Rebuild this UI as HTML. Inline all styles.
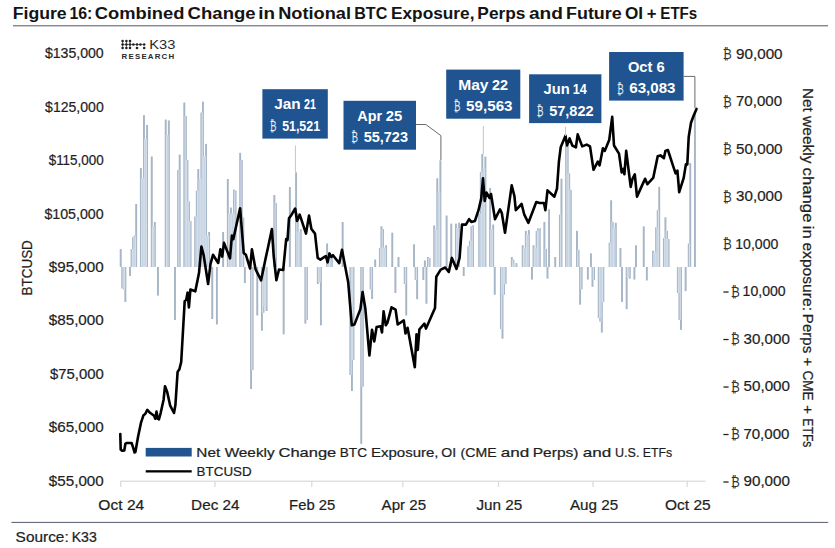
<!DOCTYPE html>
<html><head><meta charset="utf-8"><style>
html,body{margin:0;padding:0;background:#fff;}
body{width:835px;height:548px;overflow:hidden;position:relative;font-family:'Liberation Sans', sans-serif;}
svg{position:absolute;left:0;top:0;}
svg text{font-family:'Liberation Sans', sans-serif;}
</style></head><body>
<svg width="835" height="548" viewBox="0 0 835 548">
<rect x="13" y="25.3" width="815" height="1" fill="#4f5666"/>
<g fill="#222"><circle cx="122.6" cy="41.1" r="1.3"/><circle cx="126.4" cy="41.1" r="1.3"/><circle cx="130" cy="41.1" r="1.3"/><circle cx="122.6" cy="44.5" r="1.3"/><circle cx="126.4" cy="44.5" r="1.3"/><circle cx="130" cy="44.5" r="1.3"/><circle cx="133.4" cy="44.5" r="1.3"/><circle cx="137" cy="44.5" r="1.3"/><circle cx="140.4" cy="44.5" r="1.3"/><circle cx="144.2" cy="44.5" r="1.3"/><circle cx="122.6" cy="48.0" r="1.3"/><circle cx="126.4" cy="48.0" r="1.3"/><circle cx="130" cy="48.0" r="1.3"/><circle cx="137" cy="48.0" r="1.3"/><circle cx="144.2" cy="48.0" r="1.3"/></g>
<g stroke="#222" stroke-width="0.6"><line x1="122.6" y1="41.1" x2="122.6" y2="48"/><line x1="126.4" y1="41.1" x2="126.4" y2="48"/><line x1="130" y1="41.1" x2="130" y2="48"/><line x1="122.6" y1="44.5" x2="144.2" y2="44.5"/></g>
<text x="149.22" y="49.30" font-size="12.8" fill="#2a2a2a" textLength="26.15" lengthAdjust="spacingAndGlyphs">K33</text>
<text x="121.6" y="58.6" font-size="7.9" font-weight="bold" fill="#2a2a2a" textLength="52.6" lengthAdjust="spacing">RESEARCH</text>
<g fill="#c7d4e3"><rect x="119.92" y="249.0" width="1.552" height="18.0"/><rect x="121.48" y="267.0" width="1.552" height="21.5"/><rect x="123.03" y="267.0" width="1.552" height="22.4"/><rect x="124.58" y="267.0" width="1.552" height="35.0"/><rect x="129.24" y="267.0" width="1.552" height="9.0"/><rect x="130.79" y="249.0" width="1.552" height="18.0"/><rect x="132.34" y="237.3" width="1.552" height="29.7"/><rect x="133.89" y="235.5" width="1.552" height="31.5"/><rect x="135.44" y="204.0" width="1.552" height="63.0"/><rect x="140.10" y="168.1" width="1.552" height="98.9"/><rect x="141.65" y="178.0" width="1.552" height="89.0"/><rect x="143.20" y="115.1" width="1.552" height="151.9"/><rect x="144.76" y="139.2" width="1.552" height="127.8"/><rect x="146.31" y="125.0" width="1.552" height="142.0"/><rect x="150.96" y="156.5" width="1.552" height="110.5"/><rect x="152.52" y="226.5" width="1.552" height="40.5"/><rect x="154.07" y="222.0" width="1.552" height="45.0"/><rect x="157.17" y="267.0" width="1.552" height="28.6"/><rect x="164.93" y="119.6" width="1.552" height="147.4"/><rect x="166.48" y="135.2" width="1.552" height="131.8"/><rect x="168.04" y="120.5" width="1.552" height="146.5"/><rect x="174.24" y="267.0" width="1.552" height="53.0"/><rect x="177.35" y="170.0" width="1.552" height="97.0"/><rect x="178.90" y="154.7" width="1.552" height="112.3"/><rect x="183.56" y="102.6" width="1.552" height="164.4"/><rect x="185.11" y="116.0" width="1.552" height="151.0"/><rect x="186.66" y="160.0" width="1.552" height="107.0"/><rect x="188.21" y="201.4" width="1.552" height="65.6"/><rect x="189.76" y="221.0" width="1.552" height="46.0"/><rect x="194.42" y="216.6" width="1.552" height="50.4"/><rect x="195.97" y="190.6" width="1.552" height="76.4"/><rect x="197.52" y="169.0" width="1.552" height="98.0"/><rect x="199.08" y="178.8" width="1.552" height="88.2"/><rect x="200.63" y="112.5" width="1.552" height="154.5"/><rect x="202.18" y="101.7" width="1.552" height="165.3"/><rect x="203.73" y="156.2" width="1.552" height="110.8"/><rect x="205.28" y="143.9" width="1.552" height="123.1"/><rect x="206.84" y="235.5" width="1.552" height="31.5"/><rect x="208.39" y="232.0" width="1.552" height="35.0"/><rect x="211.49" y="267.0" width="1.552" height="52.0"/><rect x="216.15" y="267.0" width="1.552" height="57.4"/><rect x="222.36" y="232.0" width="1.552" height="35.0"/><rect x="227.01" y="179.0" width="1.552" height="88.0"/><rect x="228.56" y="213.5" width="1.552" height="53.5"/><rect x="230.12" y="207.6" width="1.552" height="59.4"/><rect x="231.67" y="213.5" width="1.552" height="53.5"/><rect x="233.22" y="189.7" width="1.552" height="77.3"/><rect x="234.77" y="190.6" width="1.552" height="76.4"/><rect x="239.43" y="152.9" width="1.552" height="114.1"/><rect x="240.98" y="160.0" width="1.552" height="107.0"/><rect x="242.53" y="217.5" width="1.552" height="49.5"/><rect x="244.08" y="267.0" width="1.552" height="16.0"/><rect x="250.29" y="267.0" width="1.552" height="122.0"/><rect x="251.84" y="267.0" width="1.552" height="103.0"/><rect x="256.50" y="267.0" width="1.552" height="48.4"/><rect x="261.16" y="267.0" width="1.552" height="63.7"/><rect x="262.71" y="267.0" width="1.552" height="45.7"/><rect x="264.26" y="267.0" width="1.552" height="39.6"/><rect x="265.81" y="267.0" width="1.552" height="44.0"/><rect x="273.57" y="195.0" width="1.552" height="72.0"/><rect x="275.12" y="203.0" width="1.552" height="64.0"/><rect x="282.88" y="267.0" width="1.552" height="67.3"/><rect x="289.09" y="187.0" width="1.552" height="80.0"/><rect x="295.30" y="172.4" width="1.552" height="94.6"/><rect x="296.85" y="213.0" width="1.552" height="54.0"/><rect x="298.40" y="232.8" width="1.552" height="34.2"/><rect x="299.96" y="229.0" width="1.552" height="38.0"/><rect x="304.61" y="267.0" width="1.552" height="56.5"/><rect x="306.16" y="267.0" width="1.552" height="53.0"/><rect x="317.03" y="267.0" width="1.552" height="17.0"/><rect x="318.58" y="267.0" width="1.552" height="15.3"/><rect x="320.13" y="267.0" width="1.552" height="58.3"/><rect x="326.34" y="243.5" width="1.552" height="23.5"/><rect x="327.89" y="255.0" width="1.552" height="12.0"/><rect x="329.44" y="258.0" width="1.552" height="9.0"/><rect x="331.00" y="257.0" width="1.552" height="10.0"/><rect x="341.86" y="222.0" width="1.552" height="45.0"/><rect x="349.62" y="267.0" width="1.552" height="108.0"/><rect x="351.17" y="267.0" width="1.552" height="124.0"/><rect x="352.72" y="267.0" width="1.552" height="93.0"/><rect x="360.48" y="267.0" width="1.552" height="176.8"/><rect x="362.04" y="267.0" width="1.552" height="119.7"/><rect x="369.80" y="267.0" width="1.552" height="22.4"/><rect x="371.35" y="267.0" width="1.552" height="32.0"/><rect x="374.45" y="259.6" width="1.552" height="7.4"/><rect x="379.11" y="248.0" width="1.552" height="19.0"/><rect x="380.66" y="226.4" width="1.552" height="40.6"/><rect x="382.21" y="229.0" width="1.552" height="38.0"/><rect x="383.76" y="247.5" width="1.552" height="19.5"/><rect x="385.32" y="245.3" width="1.552" height="21.7"/><rect x="391.52" y="232.7" width="1.552" height="34.3"/><rect x="394.63" y="267.0" width="1.552" height="26.0"/><rect x="397.73" y="257.0" width="1.552" height="10.0"/><rect x="403.94" y="267.0" width="1.552" height="17.0"/><rect x="405.49" y="267.0" width="1.552" height="48.4"/><rect x="413.25" y="244.4" width="1.552" height="22.6"/><rect x="414.80" y="267.0" width="1.552" height="13.0"/><rect x="416.36" y="267.0" width="1.552" height="32.2"/><rect x="422.56" y="267.0" width="1.552" height="13.0"/><rect x="424.12" y="260.5" width="1.552" height="6.5"/><rect x="425.67" y="267.0" width="1.552" height="36.7"/><rect x="427.22" y="257.0" width="1.552" height="10.0"/><rect x="428.77" y="258.0" width="1.552" height="9.0"/><rect x="433.43" y="225.5" width="1.552" height="41.5"/><rect x="434.98" y="229.7" width="1.552" height="37.4"/><rect x="436.53" y="178.3" width="1.552" height="88.7"/><rect x="438.08" y="191.7" width="1.552" height="75.3"/><rect x="439.64" y="160.3" width="1.552" height="106.7"/><rect x="445.84" y="215.6" width="1.552" height="51.4"/><rect x="450.50" y="223.7" width="1.552" height="43.3"/><rect x="455.16" y="223.7" width="1.552" height="43.3"/><rect x="456.71" y="228.0" width="1.552" height="39.0"/><rect x="458.26" y="222.8" width="1.552" height="44.2"/><rect x="462.92" y="267.0" width="1.552" height="9.0"/><rect x="467.57" y="246.2" width="1.552" height="20.8"/><rect x="469.12" y="240.8" width="1.552" height="26.2"/><rect x="470.68" y="226.4" width="1.552" height="40.6"/><rect x="472.23" y="225.5" width="1.552" height="41.5"/><rect x="478.44" y="213.8" width="1.552" height="53.2"/><rect x="479.99" y="172.0" width="1.552" height="95.0"/><rect x="481.54" y="154.0" width="1.552" height="113.0"/><rect x="483.09" y="167.7" width="1.552" height="99.3"/><rect x="484.64" y="156.7" width="1.552" height="110.3"/><rect x="489.30" y="188.0" width="1.552" height="79.0"/><rect x="490.85" y="228.8" width="1.552" height="38.2"/><rect x="492.40" y="224.6" width="1.552" height="42.4"/><rect x="493.96" y="267.0" width="1.552" height="27.7"/><rect x="500.16" y="267.0" width="1.552" height="61.9"/><rect x="501.72" y="267.0" width="1.552" height="71.7"/><rect x="503.27" y="267.0" width="1.552" height="27.7"/><rect x="504.82" y="267.0" width="1.552" height="17.0"/><rect x="511.03" y="257.0" width="1.552" height="10.0"/><rect x="512.58" y="259.6" width="1.552" height="7.4"/><rect x="514.13" y="263.4" width="1.552" height="3.6"/><rect x="515.68" y="263.0" width="1.552" height="4.0"/><rect x="521.89" y="245.3" width="1.552" height="21.7"/><rect x="523.44" y="247.5" width="1.552" height="19.5"/><rect x="525.00" y="230.9" width="1.552" height="36.1"/><rect x="526.55" y="234.5" width="1.552" height="32.5"/><rect x="528.10" y="230.0" width="1.552" height="37.0"/><rect x="531.20" y="267.0" width="1.552" height="12.5"/><rect x="532.76" y="245.3" width="1.552" height="21.7"/><rect x="534.31" y="247.5" width="1.552" height="19.5"/><rect x="535.86" y="230.9" width="1.552" height="36.1"/><rect x="537.41" y="228.2" width="1.552" height="38.8"/><rect x="538.96" y="228.2" width="1.552" height="38.8"/><rect x="543.62" y="221.9" width="1.552" height="45.1"/><rect x="545.17" y="248.9" width="1.552" height="18.1"/><rect x="546.72" y="267.0" width="1.552" height="11.6"/><rect x="548.28" y="209.4" width="1.552" height="57.6"/><rect x="554.48" y="257.0" width="1.552" height="10.0"/><rect x="559.14" y="214.7" width="1.552" height="52.3"/><rect x="560.69" y="178.8" width="1.552" height="88.2"/><rect x="565.35" y="145.5" width="1.552" height="121.5"/><rect x="566.90" y="145.5" width="1.552" height="121.5"/><rect x="568.45" y="173.4" width="1.552" height="93.6"/><rect x="570.00" y="190.0" width="1.552" height="77.0"/><rect x="576.21" y="230.9" width="1.552" height="36.1"/><rect x="577.76" y="249.8" width="1.552" height="17.2"/><rect x="579.32" y="267.0" width="1.552" height="37.6"/><rect x="580.87" y="267.0" width="1.552" height="22.4"/><rect x="587.08" y="267.0" width="1.552" height="12.5"/><rect x="590.18" y="253.4" width="1.552" height="13.6"/><rect x="591.73" y="267.0" width="1.552" height="19.7"/><rect x="593.28" y="267.0" width="1.552" height="13.0"/><rect x="597.94" y="267.0" width="1.552" height="51.0"/><rect x="599.49" y="267.0" width="1.552" height="54.7"/><rect x="601.04" y="267.0" width="1.552" height="65.5"/><rect x="602.60" y="267.0" width="1.552" height="34.9"/><rect x="608.80" y="242.6" width="1.552" height="24.4"/><rect x="610.36" y="200.3" width="1.552" height="66.7"/><rect x="611.91" y="221.9" width="1.552" height="45.1"/><rect x="613.46" y="227.2" width="1.552" height="39.8"/><rect x="615.01" y="222.8" width="1.552" height="44.2"/><rect x="619.67" y="248.0" width="1.552" height="19.0"/><rect x="621.22" y="267.0" width="1.552" height="34.9"/><rect x="625.88" y="267.0" width="1.552" height="42.1"/><rect x="627.43" y="267.0" width="1.552" height="10.4"/><rect x="628.98" y="267.0" width="1.552" height="11.6"/><rect x="633.64" y="267.0" width="1.552" height="12.5"/><rect x="635.19" y="245.3" width="1.552" height="21.7"/><rect x="642.95" y="226.4" width="1.552" height="40.6"/><rect x="646.05" y="267.0" width="1.552" height="13.4"/><rect x="652.26" y="250.7" width="1.552" height="16.3"/><rect x="653.81" y="252.3" width="1.552" height="14.7"/><rect x="655.36" y="227.3" width="1.552" height="39.7"/><rect x="656.92" y="210.2" width="1.552" height="56.8"/><rect x="658.47" y="186.9" width="1.552" height="80.1"/><rect x="663.12" y="238.1" width="1.552" height="28.9"/><rect x="664.68" y="217.4" width="1.552" height="49.6"/><rect x="666.23" y="230.9" width="1.552" height="36.1"/><rect x="667.78" y="239.0" width="1.552" height="28.0"/><rect x="677.09" y="267.0" width="1.552" height="26.0"/><rect x="678.64" y="267.0" width="1.552" height="52.9"/><rect x="680.20" y="267.0" width="1.552" height="62.8"/><rect x="684.85" y="267.0" width="1.552" height="24.1"/><rect x="687.96" y="243.5" width="1.552" height="23.5"/><rect x="689.51" y="163.0" width="1.552" height="104.0"/><rect x="694.16" y="112.0" width="1.552" height="155.0"/></g><g stroke="#8d9db0" stroke-width="0.6"><line x1="120.22" y1="249.0" x2="120.22" y2="267.0"/><line x1="121.18" y1="249.0" x2="121.18" y2="267.0"/><line x1="121.78" y1="267.0" x2="121.78" y2="288.5"/><line x1="123.33" y1="288.5" x2="123.33" y2="289.4"/><line x1="124.88" y1="289.4" x2="124.88" y2="302.0"/><line x1="125.83" y1="267.0" x2="125.83" y2="302.0"/><line x1="129.54" y1="267.0" x2="129.54" y2="276.0"/><line x1="130.49" y1="267.0" x2="130.49" y2="276.0"/><line x1="131.09" y1="249.0" x2="131.09" y2="267.0"/><line x1="132.64" y1="237.3" x2="132.64" y2="249.0"/><line x1="134.19" y1="235.5" x2="134.19" y2="237.3"/><line x1="135.74" y1="204.0" x2="135.74" y2="235.5"/><line x1="136.70" y1="204.0" x2="136.70" y2="267.0"/><line x1="140.40" y1="168.1" x2="140.40" y2="267.0"/><line x1="141.35" y1="168.1" x2="141.35" y2="178.0"/><line x1="143.50" y1="115.1" x2="143.50" y2="178.0"/><line x1="144.46" y1="115.1" x2="144.46" y2="139.2"/><line x1="146.61" y1="125.0" x2="146.61" y2="139.2"/><line x1="147.56" y1="125.0" x2="147.56" y2="267.0"/><line x1="151.26" y1="156.5" x2="151.26" y2="267.0"/><line x1="152.22" y1="156.5" x2="152.22" y2="226.5"/><line x1="154.37" y1="222.0" x2="154.37" y2="226.5"/><line x1="155.32" y1="222.0" x2="155.32" y2="267.0"/><line x1="157.47" y1="267.0" x2="157.47" y2="295.6"/><line x1="158.42" y1="267.0" x2="158.42" y2="295.6"/><line x1="165.23" y1="119.6" x2="165.23" y2="267.0"/><line x1="166.18" y1="119.6" x2="166.18" y2="135.2"/><line x1="168.34" y1="120.5" x2="168.34" y2="135.2"/><line x1="169.29" y1="120.5" x2="169.29" y2="267.0"/><line x1="174.54" y1="267.0" x2="174.54" y2="320.0"/><line x1="175.50" y1="267.0" x2="175.50" y2="320.0"/><line x1="177.65" y1="170.0" x2="177.65" y2="267.0"/><line x1="179.20" y1="154.7" x2="179.20" y2="170.0"/><line x1="180.15" y1="154.7" x2="180.15" y2="267.0"/><line x1="183.86" y1="102.6" x2="183.86" y2="267.0"/><line x1="184.81" y1="102.6" x2="184.81" y2="116.0"/><line x1="186.36" y1="116.0" x2="186.36" y2="160.0"/><line x1="187.91" y1="160.0" x2="187.91" y2="201.4"/><line x1="189.46" y1="201.4" x2="189.46" y2="221.0"/><line x1="191.02" y1="221.0" x2="191.02" y2="267.0"/><line x1="194.72" y1="216.6" x2="194.72" y2="267.0"/><line x1="196.27" y1="190.6" x2="196.27" y2="216.6"/><line x1="197.82" y1="169.0" x2="197.82" y2="190.6"/><line x1="198.78" y1="169.0" x2="198.78" y2="178.8"/><line x1="200.93" y1="112.5" x2="200.93" y2="178.8"/><line x1="202.48" y1="101.7" x2="202.48" y2="112.5"/><line x1="203.43" y1="101.7" x2="203.43" y2="156.2"/><line x1="205.58" y1="143.9" x2="205.58" y2="156.2"/><line x1="206.54" y1="143.9" x2="206.54" y2="235.5"/><line x1="208.69" y1="232.0" x2="208.69" y2="235.5"/><line x1="209.64" y1="232.0" x2="209.64" y2="267.0"/><line x1="211.79" y1="267.0" x2="211.79" y2="319.0"/><line x1="212.74" y1="267.0" x2="212.74" y2="319.0"/><line x1="216.45" y1="267.0" x2="216.45" y2="324.4"/><line x1="217.40" y1="267.0" x2="217.40" y2="324.4"/><line x1="222.66" y1="232.0" x2="222.66" y2="267.0"/><line x1="223.61" y1="232.0" x2="223.61" y2="267.0"/><line x1="227.31" y1="179.0" x2="227.31" y2="267.0"/><line x1="228.26" y1="179.0" x2="228.26" y2="213.5"/><line x1="230.42" y1="207.6" x2="230.42" y2="213.5"/><line x1="231.37" y1="207.6" x2="231.37" y2="213.5"/><line x1="233.52" y1="189.7" x2="233.52" y2="213.5"/><line x1="234.47" y1="189.7" x2="234.47" y2="190.6"/><line x1="236.02" y1="190.6" x2="236.02" y2="267.0"/><line x1="239.73" y1="152.9" x2="239.73" y2="267.0"/><line x1="240.68" y1="152.9" x2="240.68" y2="160.0"/><line x1="242.23" y1="160.0" x2="242.23" y2="217.5"/><line x1="243.78" y1="217.5" x2="243.78" y2="267.0"/><line x1="244.38" y1="267.0" x2="244.38" y2="283.0"/><line x1="245.34" y1="267.0" x2="245.34" y2="283.0"/><line x1="250.59" y1="267.0" x2="250.59" y2="389.0"/><line x1="251.54" y1="370.0" x2="251.54" y2="389.0"/><line x1="253.10" y1="267.0" x2="253.10" y2="370.0"/><line x1="256.80" y1="267.0" x2="256.80" y2="315.4"/><line x1="257.75" y1="267.0" x2="257.75" y2="315.4"/><line x1="261.46" y1="267.0" x2="261.46" y2="330.7"/><line x1="262.41" y1="312.7" x2="262.41" y2="330.7"/><line x1="263.96" y1="306.6" x2="263.96" y2="312.7"/><line x1="266.11" y1="306.6" x2="266.11" y2="311.0"/><line x1="267.06" y1="267.0" x2="267.06" y2="311.0"/><line x1="273.87" y1="195.0" x2="273.87" y2="267.0"/><line x1="274.82" y1="195.0" x2="274.82" y2="203.0"/><line x1="276.38" y1="203.0" x2="276.38" y2="267.0"/><line x1="283.18" y1="267.0" x2="283.18" y2="334.3"/><line x1="284.14" y1="267.0" x2="284.14" y2="334.3"/><line x1="289.39" y1="187.0" x2="289.39" y2="267.0"/><line x1="290.34" y1="187.0" x2="290.34" y2="267.0"/><line x1="295.60" y1="172.4" x2="295.60" y2="267.0"/><line x1="296.55" y1="172.4" x2="296.55" y2="213.0"/><line x1="298.10" y1="213.0" x2="298.10" y2="232.8"/><line x1="300.26" y1="229.0" x2="300.26" y2="232.8"/><line x1="301.21" y1="229.0" x2="301.21" y2="267.0"/><line x1="304.91" y1="267.0" x2="304.91" y2="323.5"/><line x1="305.86" y1="320.0" x2="305.86" y2="323.5"/><line x1="307.42" y1="267.0" x2="307.42" y2="320.0"/><line x1="317.33" y1="267.0" x2="317.33" y2="284.0"/><line x1="318.28" y1="282.3" x2="318.28" y2="284.0"/><line x1="320.43" y1="282.3" x2="320.43" y2="325.3"/><line x1="321.38" y1="267.0" x2="321.38" y2="325.3"/><line x1="326.64" y1="243.5" x2="326.64" y2="267.0"/><line x1="327.59" y1="243.5" x2="327.59" y2="255.0"/><line x1="329.14" y1="255.0" x2="329.14" y2="258.0"/><line x1="331.30" y1="257.0" x2="331.30" y2="258.0"/><line x1="332.25" y1="257.0" x2="332.25" y2="267.0"/><line x1="342.16" y1="222.0" x2="342.16" y2="267.0"/><line x1="343.11" y1="222.0" x2="343.11" y2="267.0"/><line x1="349.92" y1="267.0" x2="349.92" y2="375.0"/><line x1="351.47" y1="375.0" x2="351.47" y2="391.0"/><line x1="352.42" y1="360.0" x2="352.42" y2="391.0"/><line x1="353.98" y1="267.0" x2="353.98" y2="360.0"/><line x1="360.78" y1="267.0" x2="360.78" y2="443.8"/><line x1="361.74" y1="386.7" x2="361.74" y2="443.8"/><line x1="363.29" y1="267.0" x2="363.29" y2="386.7"/><line x1="370.10" y1="267.0" x2="370.10" y2="289.4"/><line x1="371.65" y1="289.4" x2="371.65" y2="299.0"/><line x1="372.60" y1="267.0" x2="372.60" y2="299.0"/><line x1="374.75" y1="259.6" x2="374.75" y2="267.0"/><line x1="375.70" y1="259.6" x2="375.70" y2="267.0"/><line x1="379.41" y1="248.0" x2="379.41" y2="267.0"/><line x1="380.96" y1="226.4" x2="380.96" y2="248.0"/><line x1="381.91" y1="226.4" x2="381.91" y2="229.0"/><line x1="383.46" y1="229.0" x2="383.46" y2="247.5"/><line x1="385.62" y1="245.3" x2="385.62" y2="247.5"/><line x1="386.57" y1="245.3" x2="386.57" y2="267.0"/><line x1="391.82" y1="232.7" x2="391.82" y2="267.0"/><line x1="392.78" y1="232.7" x2="392.78" y2="267.0"/><line x1="394.93" y1="267.0" x2="394.93" y2="293.0"/><line x1="395.88" y1="267.0" x2="395.88" y2="293.0"/><line x1="398.03" y1="257.0" x2="398.03" y2="267.0"/><line x1="398.98" y1="257.0" x2="398.98" y2="267.0"/><line x1="404.24" y1="267.0" x2="404.24" y2="284.0"/><line x1="405.79" y1="284.0" x2="405.79" y2="315.4"/><line x1="406.74" y1="267.0" x2="406.74" y2="315.4"/><line x1="413.55" y1="244.4" x2="413.55" y2="267.0"/><line x1="414.50" y1="244.4" x2="414.50" y2="267.0"/><line x1="415.10" y1="267.0" x2="415.10" y2="280.0"/><line x1="416.66" y1="280.0" x2="416.66" y2="299.2"/><line x1="417.61" y1="267.0" x2="417.61" y2="299.2"/><line x1="422.86" y1="267.0" x2="422.86" y2="280.0"/><line x1="423.82" y1="267.0" x2="423.82" y2="280.0"/><line x1="424.42" y1="260.5" x2="424.42" y2="267.0"/><line x1="425.37" y1="260.5" x2="425.37" y2="267.0"/><line x1="425.97" y1="267.0" x2="425.97" y2="303.7"/><line x1="426.92" y1="267.0" x2="426.92" y2="303.7"/><line x1="427.52" y1="257.0" x2="427.52" y2="267.0"/><line x1="428.47" y1="257.0" x2="428.47" y2="258.0"/><line x1="430.02" y1="258.0" x2="430.02" y2="267.0"/><line x1="433.73" y1="225.5" x2="433.73" y2="267.0"/><line x1="434.68" y1="225.5" x2="434.68" y2="229.7"/><line x1="436.83" y1="178.3" x2="436.83" y2="229.7"/><line x1="437.78" y1="178.3" x2="437.78" y2="191.7"/><line x1="439.94" y1="160.3" x2="439.94" y2="191.7"/><line x1="440.89" y1="160.3" x2="440.89" y2="267.0"/><line x1="446.14" y1="215.6" x2="446.14" y2="267.0"/><line x1="447.10" y1="215.6" x2="447.10" y2="267.0"/><line x1="450.80" y1="223.7" x2="450.80" y2="267.0"/><line x1="451.75" y1="223.7" x2="451.75" y2="267.0"/><line x1="455.46" y1="223.7" x2="455.46" y2="267.0"/><line x1="456.41" y1="223.7" x2="456.41" y2="228.0"/><line x1="458.56" y1="222.8" x2="458.56" y2="228.0"/><line x1="459.51" y1="222.8" x2="459.51" y2="267.0"/><line x1="463.22" y1="267.0" x2="463.22" y2="276.0"/><line x1="464.17" y1="267.0" x2="464.17" y2="276.0"/><line x1="467.87" y1="246.2" x2="467.87" y2="267.0"/><line x1="469.42" y1="240.8" x2="469.42" y2="246.2"/><line x1="470.98" y1="226.4" x2="470.98" y2="240.8"/><line x1="472.53" y1="225.5" x2="472.53" y2="226.4"/><line x1="473.48" y1="225.5" x2="473.48" y2="267.0"/><line x1="478.74" y1="213.8" x2="478.74" y2="267.0"/><line x1="480.29" y1="172.0" x2="480.29" y2="213.8"/><line x1="481.84" y1="154.0" x2="481.84" y2="172.0"/><line x1="482.79" y1="154.0" x2="482.79" y2="167.7"/><line x1="484.94" y1="156.7" x2="484.94" y2="167.7"/><line x1="485.90" y1="156.7" x2="485.90" y2="267.0"/><line x1="489.60" y1="188.0" x2="489.60" y2="267.0"/><line x1="490.55" y1="188.0" x2="490.55" y2="228.8"/><line x1="492.70" y1="224.6" x2="492.70" y2="228.8"/><line x1="493.66" y1="224.6" x2="493.66" y2="267.0"/><line x1="494.26" y1="267.0" x2="494.26" y2="294.7"/><line x1="495.21" y1="267.0" x2="495.21" y2="294.7"/><line x1="500.46" y1="267.0" x2="500.46" y2="328.9"/><line x1="502.02" y1="328.9" x2="502.02" y2="338.7"/><line x1="502.97" y1="294.7" x2="502.97" y2="338.7"/><line x1="504.52" y1="284.0" x2="504.52" y2="294.7"/><line x1="506.07" y1="267.0" x2="506.07" y2="284.0"/><line x1="511.33" y1="257.0" x2="511.33" y2="267.0"/><line x1="512.28" y1="257.0" x2="512.28" y2="259.6"/><line x1="513.83" y1="259.6" x2="513.83" y2="263.4"/><line x1="515.98" y1="263.0" x2="515.98" y2="263.4"/><line x1="516.94" y1="263.0" x2="516.94" y2="267.0"/><line x1="522.19" y1="245.3" x2="522.19" y2="267.0"/><line x1="523.14" y1="245.3" x2="523.14" y2="247.5"/><line x1="525.30" y1="230.9" x2="525.30" y2="247.5"/><line x1="526.25" y1="230.9" x2="526.25" y2="234.5"/><line x1="528.40" y1="230.0" x2="528.40" y2="234.5"/><line x1="529.35" y1="230.0" x2="529.35" y2="267.0"/><line x1="531.50" y1="267.0" x2="531.50" y2="279.5"/><line x1="532.46" y1="267.0" x2="532.46" y2="279.5"/><line x1="533.06" y1="245.3" x2="533.06" y2="267.0"/><line x1="534.01" y1="245.3" x2="534.01" y2="247.5"/><line x1="536.16" y1="230.9" x2="536.16" y2="247.5"/><line x1="537.71" y1="228.2" x2="537.71" y2="230.9"/><line x1="540.22" y1="228.2" x2="540.22" y2="267.0"/><line x1="543.92" y1="221.9" x2="543.92" y2="267.0"/><line x1="544.87" y1="221.9" x2="544.87" y2="248.9"/><line x1="546.42" y1="248.9" x2="546.42" y2="267.0"/><line x1="547.02" y1="267.0" x2="547.02" y2="278.6"/><line x1="547.98" y1="267.0" x2="547.98" y2="278.6"/><line x1="548.58" y1="209.4" x2="548.58" y2="267.0"/><line x1="549.53" y1="209.4" x2="549.53" y2="267.0"/><line x1="554.78" y1="257.0" x2="554.78" y2="267.0"/><line x1="555.74" y1="257.0" x2="555.74" y2="267.0"/><line x1="559.44" y1="214.7" x2="559.44" y2="267.0"/><line x1="560.99" y1="178.8" x2="560.99" y2="214.7"/><line x1="561.94" y1="178.8" x2="561.94" y2="267.0"/><line x1="565.65" y1="145.5" x2="565.65" y2="267.0"/><line x1="568.15" y1="145.5" x2="568.15" y2="173.4"/><line x1="569.70" y1="173.4" x2="569.70" y2="190.0"/><line x1="571.26" y1="190.0" x2="571.26" y2="267.0"/><line x1="576.51" y1="230.9" x2="576.51" y2="267.0"/><line x1="577.46" y1="230.9" x2="577.46" y2="249.8"/><line x1="579.02" y1="249.8" x2="579.02" y2="267.0"/><line x1="579.62" y1="267.0" x2="579.62" y2="304.6"/><line x1="580.57" y1="289.4" x2="580.57" y2="304.6"/><line x1="582.12" y1="267.0" x2="582.12" y2="289.4"/><line x1="587.38" y1="267.0" x2="587.38" y2="279.5"/><line x1="588.33" y1="267.0" x2="588.33" y2="279.5"/><line x1="590.48" y1="253.4" x2="590.48" y2="267.0"/><line x1="591.43" y1="253.4" x2="591.43" y2="267.0"/><line x1="592.03" y1="267.0" x2="592.03" y2="286.7"/><line x1="592.98" y1="280.0" x2="592.98" y2="286.7"/><line x1="594.54" y1="267.0" x2="594.54" y2="280.0"/><line x1="598.24" y1="267.0" x2="598.24" y2="318.0"/><line x1="599.79" y1="318.0" x2="599.79" y2="321.7"/><line x1="601.34" y1="321.7" x2="601.34" y2="332.5"/><line x1="602.30" y1="301.9" x2="602.30" y2="332.5"/><line x1="603.85" y1="267.0" x2="603.85" y2="301.9"/><line x1="609.10" y1="242.6" x2="609.10" y2="267.0"/><line x1="610.66" y1="200.3" x2="610.66" y2="242.6"/><line x1="611.61" y1="200.3" x2="611.61" y2="221.9"/><line x1="613.16" y1="221.9" x2="613.16" y2="227.2"/><line x1="615.31" y1="222.8" x2="615.31" y2="227.2"/><line x1="616.26" y1="222.8" x2="616.26" y2="267.0"/><line x1="619.97" y1="248.0" x2="619.97" y2="267.0"/><line x1="620.92" y1="248.0" x2="620.92" y2="267.0"/><line x1="621.52" y1="267.0" x2="621.52" y2="301.9"/><line x1="622.47" y1="267.0" x2="622.47" y2="301.9"/><line x1="626.18" y1="267.0" x2="626.18" y2="309.1"/><line x1="627.13" y1="277.4" x2="627.13" y2="309.1"/><line x1="629.28" y1="277.4" x2="629.28" y2="278.6"/><line x1="630.23" y1="267.0" x2="630.23" y2="278.6"/><line x1="633.94" y1="267.0" x2="633.94" y2="279.5"/><line x1="634.89" y1="267.0" x2="634.89" y2="279.5"/><line x1="635.49" y1="245.3" x2="635.49" y2="267.0"/><line x1="636.44" y1="245.3" x2="636.44" y2="267.0"/><line x1="643.25" y1="226.4" x2="643.25" y2="267.0"/><line x1="644.20" y1="226.4" x2="644.20" y2="267.0"/><line x1="646.35" y1="267.0" x2="646.35" y2="280.4"/><line x1="647.30" y1="267.0" x2="647.30" y2="280.4"/><line x1="652.56" y1="250.7" x2="652.56" y2="267.0"/><line x1="653.51" y1="250.7" x2="653.51" y2="252.3"/><line x1="655.66" y1="227.3" x2="655.66" y2="252.3"/><line x1="657.22" y1="210.2" x2="657.22" y2="227.3"/><line x1="658.77" y1="186.9" x2="658.77" y2="210.2"/><line x1="659.72" y1="186.9" x2="659.72" y2="267.0"/><line x1="663.42" y1="238.1" x2="663.42" y2="267.0"/><line x1="664.98" y1="217.4" x2="664.98" y2="238.1"/><line x1="665.93" y1="217.4" x2="665.93" y2="230.9"/><line x1="667.48" y1="230.9" x2="667.48" y2="239.0"/><line x1="669.03" y1="239.0" x2="669.03" y2="267.0"/><line x1="677.39" y1="267.0" x2="677.39" y2="293.0"/><line x1="678.94" y1="293.0" x2="678.94" y2="319.9"/><line x1="680.50" y1="319.9" x2="680.50" y2="329.8"/><line x1="681.45" y1="267.0" x2="681.45" y2="329.8"/><line x1="685.15" y1="267.0" x2="685.15" y2="291.1"/><line x1="686.10" y1="267.0" x2="686.10" y2="291.1"/><line x1="688.26" y1="243.5" x2="688.26" y2="267.0"/><line x1="689.81" y1="163.0" x2="689.81" y2="243.5"/><line x1="690.76" y1="163.0" x2="690.76" y2="267.0"/><line x1="694.46" y1="112.0" x2="694.46" y2="267.0"/><line x1="695.42" y1="112.0" x2="695.42" y2="267.0"/></g>
<rect x="120.5" y="480.6" width="585" height="1.2" fill="#d9d9d9"/>
<rect x="120.1" y="481" width="1.2" height="6" fill="#d9d9d9"/><rect x="214.4" y="481" width="1.2" height="6" fill="#d9d9d9"/><rect x="311.2" y="481" width="1.2" height="6" fill="#d9d9d9"/><rect x="402.2" y="481" width="1.2" height="6" fill="#d9d9d9"/><rect x="497.9" y="481" width="1.2" height="6" fill="#d9d9d9"/><rect x="592.4" y="481" width="1.2" height="6" fill="#d9d9d9"/><rect x="686.6" y="481" width="1.2" height="6" fill="#d9d9d9"/>
<polyline points="120.3,434.1 120.7,449.6 122.1,450.8 124.3,450.5 125.4,443.6 126.9,443.0 131.6,443.0 133.0,447.2 134.6,452.5 135.4,452.0 138.1,436.5 141.1,422.3 143.5,415.2 145.2,414.0 147.3,409.8 150.0,412.8 154.1,415.8 155.3,418.7 156.5,411.6 157.7,418.7 158.9,419.3 160.7,412.8 163.6,399.7 165.0,386.2 167.2,392.0 170.2,405.7 174.0,413.0 175.4,405.1 177.6,371.9 179.4,369.2 181.2,362.0 184.7,301.0 186.2,300.0 187.6,292.5 188.9,307.5 190.4,289.5 195.3,291.3 199.0,273.0 201.4,246.5 203.6,254.8 208.1,284.0 210.5,263.9 213.0,254.8 218.2,263.0 220.4,249.3 222.2,256.6 224.0,242.9 230.0,258.4 231.9,235.6 233.3,239.2 240.1,208.2 243.7,252.9 245.9,254.8 250.1,268.5 251.9,249.3 255.6,269.4 261.1,280.3 265.6,258.4 268.0,247.5 271.9,229.1 273.7,256.0 276.4,280.3 279.0,269.5 283.2,270.0 286.2,239.0 287.5,240.0 289.0,218.3 291.6,214.7 295.2,208.5 297.0,221.0 299.7,214.7 306.0,233.6 309.0,215.6 311.4,229.0 315.0,233.6 317.7,257.9 320.4,259.6 323.0,257.9 325.8,256.0 327.6,262.3 329.4,253.4 331.2,257.0 333.0,255.2 339.2,263.2 342.0,249.8 348.2,282.2 351.8,325.3 354.5,324.4 360.4,309.1 362.6,292.0 365.3,308.2 369.4,355.5 372.0,329.8 374.3,341.4 376.6,327.0 380.6,326.2 382.0,332.5 383.6,311.4 385.8,325.3 387.4,322.9 391.5,307.3 395.6,309.7 397.7,324.5 403.8,320.4 405.5,333.5 407.6,327.8 414.8,367.2 416.5,334.4 417.8,350.0 419.4,329.4 424.4,323.7 426.0,328.6 435.0,308.0 436.3,276.8 440.7,269.6 445.2,267.5 448.8,271.9 451.9,257.9 456.5,269.0 459.6,257.9 462.0,224.6 465.9,224.6 469.1,219.2 471.3,221.9 474.9,221.0 478.5,210.2 481.2,198.6 483.0,178.3 484.7,201.0 486.5,192.6 489.6,198.0 491.0,194.0 495.0,219.2 500.0,209.4 501.8,213.0 505.0,232.7 507.2,217.4 511.7,185.4 514.4,196.0 515.8,210.2 521.6,204.0 524.3,214.7 528.4,222.8 536.3,202.0 539.5,203.0 544.0,203.0 545.4,210.2 547.5,190.4 554.4,196.7 557.0,188.6 558.9,161.7 560.7,147.3 565.5,135.7 567.0,145.5 569.6,138.4 572.3,145.5 575.9,147.3 577.7,134.4 582.2,146.4 586.7,144.6 590.0,146.4 593.5,169.8 597.8,161.7 599.6,165.3 602.9,148.2 604.7,150.9 609.2,140.1 612.2,116.8 614.0,145.5 619.0,153.6 621.7,172.5 623.5,168.9 624.4,174.3 626.2,150.9 630.7,186.9 632.5,178.8 634.8,174.3 637.0,196.7 640.6,188.6 645.1,178.8 647.4,184.2 653.2,177.9 657.7,156.3 660.4,155.4 663.9,158.1 665.4,150.9 667.9,150.0 672.9,165.3 675.6,173.4 677.4,170.7 679.2,192.2 683.7,177.9 685.9,164.4 687.3,164.4 688.7,137.0 691.0,122.7 693.5,116.0 696.5,108.9" fill="none" stroke="#000" stroke-width="2.6" stroke-linejoin="round" stroke-linecap="round"/>
<text x="44.88" y="58.30" font-size="14.6" stroke="#1e1e1e" stroke-width="0.22" fill="#1e1e1e" textLength="58.83" lengthAdjust="spacingAndGlyphs">$135,000</text><text x="45.09" y="111.70" font-size="14.6" stroke="#1e1e1e" stroke-width="0.22" fill="#1e1e1e" textLength="58.62" lengthAdjust="spacingAndGlyphs">$125,000</text><text x="48.67" y="165.10" font-size="14.6" stroke="#1e1e1e" stroke-width="0.22" fill="#1e1e1e" textLength="55.03" lengthAdjust="spacingAndGlyphs">$115,000</text><text x="44.39" y="218.50" font-size="14.6" stroke="#1e1e1e" stroke-width="0.22" fill="#1e1e1e" textLength="59.32" lengthAdjust="spacingAndGlyphs">$105,000</text><text x="48.79" y="271.90" font-size="14.6" stroke="#1e1e1e" stroke-width="0.22" fill="#1e1e1e" textLength="54.94" lengthAdjust="spacingAndGlyphs">$95,000</text><text x="48.79" y="325.30" font-size="14.6" stroke="#1e1e1e" stroke-width="0.22" fill="#1e1e1e" textLength="54.94" lengthAdjust="spacingAndGlyphs">$85,000</text><text x="49.98" y="378.70" font-size="14.6" stroke="#1e1e1e" stroke-width="0.22" fill="#1e1e1e" textLength="53.74" lengthAdjust="spacingAndGlyphs">$75,000</text><text x="48.72" y="432.10" font-size="14.6" stroke="#1e1e1e" stroke-width="0.22" fill="#1e1e1e" textLength="55.01" lengthAdjust="spacingAndGlyphs">$65,000</text><text x="48.86" y="485.50" font-size="14.6" stroke="#1e1e1e" stroke-width="0.22" fill="#1e1e1e" textLength="54.87" lengthAdjust="spacingAndGlyphs">$55,000</text><text x="736.07" y="58.50" font-size="14.6" stroke="#1e1e1e" stroke-width="0.22" fill="#1e1e1e" textLength="46.50" lengthAdjust="spacingAndGlyphs">90,000</text><text x="722.74" y="59.10" font-size="14.2" fill="#333" textLength="9.07" lengthAdjust="spacingAndGlyphs">₿</text><text x="736.00" y="106.00" font-size="14.6" stroke="#1e1e1e" stroke-width="0.22" fill="#1e1e1e" textLength="46.00" lengthAdjust="spacingAndGlyphs">70,000</text><text x="722.74" y="106.60" font-size="14.2" fill="#333" textLength="9.07" lengthAdjust="spacingAndGlyphs">₿</text><text x="736.14" y="153.50" font-size="14.6" stroke="#1e1e1e" stroke-width="0.22" fill="#1e1e1e" textLength="46.42" lengthAdjust="spacingAndGlyphs">50,000</text><text x="722.74" y="154.10" font-size="14.2" fill="#333" textLength="9.07" lengthAdjust="spacingAndGlyphs">₿</text><text x="736.14" y="201.00" font-size="14.6" stroke="#1e1e1e" stroke-width="0.22" fill="#1e1e1e" textLength="46.27" lengthAdjust="spacingAndGlyphs">30,000</text><text x="722.74" y="201.60" font-size="14.2" fill="#333" textLength="9.07" lengthAdjust="spacingAndGlyphs">₿</text><text x="735.30" y="248.50" font-size="14.6" stroke="#1e1e1e" stroke-width="0.22" fill="#1e1e1e" textLength="42.98" lengthAdjust="spacingAndGlyphs">10,000</text><text x="722.74" y="249.10" font-size="14.2" fill="#333" textLength="9.07" lengthAdjust="spacingAndGlyphs">₿</text><rect x="723.4" y="291.40" width="5.2" height="1.25" fill="#1e1e1e"/><text x="742.60" y="296.00" font-size="14.6" stroke="#1e1e1e" stroke-width="0.22" fill="#1e1e1e" textLength="42.98" lengthAdjust="spacingAndGlyphs">10,000</text><text x="730.64" y="296.60" font-size="14.2" fill="#333" textLength="9.07" lengthAdjust="spacingAndGlyphs">₿</text><rect x="723.4" y="338.90" width="5.2" height="1.25" fill="#1e1e1e"/><text x="743.54" y="343.50" font-size="14.6" stroke="#1e1e1e" stroke-width="0.22" fill="#1e1e1e" textLength="46.27" lengthAdjust="spacingAndGlyphs">30,000</text><text x="730.64" y="344.10" font-size="14.2" fill="#333" textLength="9.07" lengthAdjust="spacingAndGlyphs">₿</text><rect x="723.4" y="386.40" width="5.2" height="1.25" fill="#1e1e1e"/><text x="743.54" y="391.00" font-size="14.6" stroke="#1e1e1e" stroke-width="0.22" fill="#1e1e1e" textLength="46.42" lengthAdjust="spacingAndGlyphs">50,000</text><text x="730.64" y="391.60" font-size="14.2" fill="#333" textLength="9.07" lengthAdjust="spacingAndGlyphs">₿</text><rect x="723.4" y="433.90" width="5.2" height="1.25" fill="#1e1e1e"/><text x="743.40" y="438.50" font-size="14.6" stroke="#1e1e1e" stroke-width="0.22" fill="#1e1e1e" textLength="46.00" lengthAdjust="spacingAndGlyphs">70,000</text><text x="730.64" y="439.10" font-size="14.2" fill="#333" textLength="9.07" lengthAdjust="spacingAndGlyphs">₿</text><rect x="723.4" y="481.40" width="5.2" height="1.25" fill="#1e1e1e"/><text x="743.47" y="486.00" font-size="14.6" stroke="#1e1e1e" stroke-width="0.22" fill="#1e1e1e" textLength="46.50" lengthAdjust="spacingAndGlyphs">90,000</text><text x="730.64" y="486.60" font-size="14.2" fill="#333" textLength="9.07" lengthAdjust="spacingAndGlyphs">₿</text><text x="98.36" y="509.90" font-size="14.4" stroke="#1e1e1e" stroke-width="0.22" fill="#1e1e1e" textLength="45.85" lengthAdjust="spacingAndGlyphs">Oct 24</text><text x="191.13" y="509.90" font-size="14.4" stroke="#1e1e1e" stroke-width="0.22" fill="#1e1e1e" textLength="48.44" lengthAdjust="spacingAndGlyphs">Dec 24</text><text x="289.12" y="509.90" font-size="14.4" stroke="#1e1e1e" stroke-width="0.22" fill="#1e1e1e" textLength="46.22" lengthAdjust="spacingAndGlyphs">Feb 25</text><text x="381.55" y="509.90" font-size="14.4" stroke="#1e1e1e" stroke-width="0.22" fill="#1e1e1e" textLength="44.53" lengthAdjust="spacingAndGlyphs">Apr 25</text><text x="476.46" y="509.90" font-size="14.4" stroke="#1e1e1e" stroke-width="0.22" fill="#1e1e1e" textLength="45.90" lengthAdjust="spacingAndGlyphs">Jun 25</text><text x="569.90" y="509.90" font-size="14.4" stroke="#1e1e1e" stroke-width="0.22" fill="#1e1e1e" textLength="48.21" lengthAdjust="spacingAndGlyphs">Aug 25</text><text x="665.08" y="509.90" font-size="14.4" stroke="#1e1e1e" stroke-width="0.22" fill="#1e1e1e" textLength="45.58" lengthAdjust="spacingAndGlyphs">Oct 25</text><text x="196.37" y="456.50" font-size="12.9" stroke="#1e1e1e" stroke-width="0.22" fill="#1e1e1e" textLength="23.85" lengthAdjust="spacingAndGlyphs">Net</text><text x="224.67" y="456.50" font-size="12.9" stroke="#1e1e1e" stroke-width="0.22" fill="#1e1e1e" textLength="49.98" lengthAdjust="spacingAndGlyphs">Weekly</text><text x="278.48" y="456.50" font-size="12.9" stroke="#1e1e1e" stroke-width="0.22" fill="#1e1e1e" textLength="57.79" lengthAdjust="spacingAndGlyphs">Change</text><text x="339.82" y="456.50" font-size="12.9" stroke="#1e1e1e" stroke-width="0.22" fill="#1e1e1e" textLength="27.15" lengthAdjust="spacingAndGlyphs">BTC</text><text x="370.97" y="456.50" font-size="12.9" stroke="#1e1e1e" stroke-width="0.22" fill="#1e1e1e" textLength="67.52" lengthAdjust="spacingAndGlyphs">Exposure,</text><text x="441.37" y="456.50" font-size="12.9" stroke="#1e1e1e" stroke-width="0.22" fill="#1e1e1e" textLength="14.89" lengthAdjust="spacingAndGlyphs">OI</text><text x="460.60" y="456.50" font-size="12.9" stroke="#1e1e1e" stroke-width="0.22" fill="#1e1e1e" textLength="35.98" lengthAdjust="spacingAndGlyphs">(CME</text><text x="500.71" y="456.50" font-size="12.9" stroke="#1e1e1e" stroke-width="0.22" fill="#1e1e1e" textLength="28.51" lengthAdjust="spacingAndGlyphs">and</text><text x="532.79" y="456.50" font-size="12.9" stroke="#1e1e1e" stroke-width="0.22" fill="#1e1e1e" textLength="45.67" lengthAdjust="spacingAndGlyphs">Perps)</text><text x="582.69" y="456.50" font-size="12.9" stroke="#1e1e1e" stroke-width="0.22" fill="#1e1e1e" textLength="28.51" lengthAdjust="spacingAndGlyphs">and</text><text x="615.07" y="456.50" font-size="12.9" stroke="#1e1e1e" stroke-width="0.22" fill="#1e1e1e" textLength="24.37" lengthAdjust="spacingAndGlyphs">U.S.</text><text x="642.81" y="456.50" font-size="12.9" stroke="#1e1e1e" stroke-width="0.22" fill="#1e1e1e" textLength="29.34" lengthAdjust="spacingAndGlyphs">ETFs</text><text x="196.63" y="476.00" font-size="12.9" stroke="#1e1e1e" stroke-width="0.22" fill="#1e1e1e" textLength="55.09" lengthAdjust="spacingAndGlyphs">BTCUSD</text><text x="15.61" y="542.30" font-size="13.9" stroke="#1e1e1e" stroke-width="0.22" fill="#1e1e1e" textLength="53.06" lengthAdjust="spacingAndGlyphs">Source:</text><text x="71.72" y="542.30" font-size="13.9" stroke="#1e1e1e" stroke-width="0.22" fill="#1e1e1e" textLength="25.06" lengthAdjust="spacingAndGlyphs">K33</text><text x="12.70" y="18.80" font-size="16.9" font-weight="bold" fill="#141414" textLength="53.98" lengthAdjust="spacingAndGlyphs">Figure</text><text x="69.42" y="18.80" font-size="16.9" font-weight="bold" fill="#141414" textLength="22.98" lengthAdjust="spacingAndGlyphs">16:</text><text x="94.77" y="18.80" font-size="16.9" font-weight="bold" fill="#141414" textLength="89.68" lengthAdjust="spacingAndGlyphs">Combined</text><text x="187.63" y="18.80" font-size="16.9" font-weight="bold" fill="#141414" textLength="68.03" lengthAdjust="spacingAndGlyphs">Change</text><text x="258.30" y="18.80" font-size="16.9" font-weight="bold" fill="#141414" textLength="16.73" lengthAdjust="spacingAndGlyphs">in</text><text x="278.22" y="18.80" font-size="16.9" font-weight="bold" fill="#141414" textLength="72.85" lengthAdjust="spacingAndGlyphs">Notional</text><text x="354.26" y="18.80" font-size="16.9" font-weight="bold" fill="#141414" textLength="33.05" lengthAdjust="spacingAndGlyphs">BTC</text><text x="390.98" y="18.80" font-size="16.9" font-weight="bold" fill="#141414" textLength="83.49" lengthAdjust="spacingAndGlyphs">Exposure,</text><text x="477.34" y="18.80" font-size="16.9" font-weight="bold" fill="#141414" textLength="48.14" lengthAdjust="spacingAndGlyphs">Perps</text><text x="528.97" y="18.80" font-size="16.9" font-weight="bold" fill="#141414" textLength="34.06" lengthAdjust="spacingAndGlyphs">and</text><text x="566.00" y="18.80" font-size="16.9" font-weight="bold" fill="#141414" textLength="55.75" lengthAdjust="spacingAndGlyphs">Future</text><text x="624.92" y="18.80" font-size="16.9" font-weight="bold" fill="#141414" textLength="18.11" lengthAdjust="spacingAndGlyphs">OI</text><text x="646.75" y="18.80" font-size="16.9" font-weight="bold" fill="#141414" textLength="9.76" lengthAdjust="spacingAndGlyphs">+</text><text x="660.33" y="18.80" font-size="16.9" font-weight="bold" fill="#141414" textLength="36.91" lengthAdjust="spacingAndGlyphs">ETFs</text>
<g transform="translate(32.0,0) rotate(-90)"><text x="-295.48" y="0.00" font-size="14.0" stroke="#1e1e1e" stroke-width="0.22" fill="#1e1e1e" textLength="55.30" lengthAdjust="spacingAndGlyphs">BTCUSD</text></g>
<g transform="translate(803.2,0) rotate(90)"><text x="87.98" y="0.00" font-size="14.0" stroke="#1e1e1e" stroke-width="0.22" fill="#1e1e1e" textLength="23.71" lengthAdjust="spacingAndGlyphs">Net</text><text x="115.98" y="0.00" font-size="14.0" stroke="#1e1e1e" stroke-width="0.22" fill="#1e1e1e" textLength="47.66" lengthAdjust="spacingAndGlyphs">weekly</text><text x="167.56" y="0.00" font-size="14.0" stroke="#1e1e1e" stroke-width="0.22" fill="#1e1e1e" textLength="54.95" lengthAdjust="spacingAndGlyphs">change</text><text x="225.86" y="0.00" font-size="14.0" stroke="#1e1e1e" stroke-width="0.22" fill="#1e1e1e" textLength="12.92" lengthAdjust="spacingAndGlyphs">in</text><text x="242.44" y="0.00" font-size="14.0" stroke="#1e1e1e" stroke-width="0.22" fill="#1e1e1e" textLength="68.54" lengthAdjust="spacingAndGlyphs">exposure:</text><text x="313.88" y="0.00" font-size="14.0" stroke="#1e1e1e" stroke-width="0.22" fill="#1e1e1e" textLength="39.33" lengthAdjust="spacingAndGlyphs">Perps</text><text x="357.53" y="0.00" font-size="14.0" stroke="#1e1e1e" stroke-width="0.22" fill="#1e1e1e" textLength="8.71" lengthAdjust="spacingAndGlyphs">+</text><text x="370.50" y="0.00" font-size="14.0" stroke="#1e1e1e" stroke-width="0.22" fill="#1e1e1e" textLength="30.17" lengthAdjust="spacingAndGlyphs">CME</text><text x="405.20" y="0.00" font-size="14.0" stroke="#1e1e1e" stroke-width="0.22" fill="#1e1e1e" textLength="8.71" lengthAdjust="spacingAndGlyphs">+</text><text x="418.30" y="0.00" font-size="14.0" stroke="#1e1e1e" stroke-width="0.22" fill="#1e1e1e" textLength="29.17" lengthAdjust="spacingAndGlyphs">ETFs</text></g>
<rect x="145.7" y="447.9" width="46" height="8.6" fill="#1f5490"/>
<rect x="145.7" y="470.2" width="46" height="2.3" fill="#000"/>
<g stroke="#c4c4c4" stroke-width="1" fill="none">
<polyline points="295.4,145.5 295.4,172"/>
<polyline points="483.3,126 483.3,154"/>
<polyline points="565.5,127 565.5,136"/>
</g>
<g stroke="#6a6a6a" stroke-width="1" fill="none">
<polyline points="416,124.5 425.8,124.5 440.9,135.6 440.9,160"/>
<polyline points="683.6,76.4 694.9,76.4 694.9,108"/>
</g>
<rect x="262.4" y="89.2" width="65.4" height="49.4" fill="#1f5490"/><text x="274.26" y="109.30" font-size="14.2" font-weight="bold" fill="#fff" textLength="26.43" lengthAdjust="spacingAndGlyphs">Jan</text><text x="304.10" y="109.30" font-size="14.2" font-weight="bold" fill="#fff" textLength="11.93" lengthAdjust="spacingAndGlyphs">21</text><text x="269.78" y="130.70" font-size="14.5" fill="#e8eef6" textLength="6.69" lengthAdjust="spacingAndGlyphs">₿</text><text x="282.14" y="130.50" font-size="14.5" font-weight="bold" fill="#fff" textLength="37.95" lengthAdjust="spacingAndGlyphs">51,521</text><rect x="343.5" y="100.8" width="72.5" height="48.9" fill="#1f5490"/><text x="357.33" y="120.90" font-size="14.2" font-weight="bold" fill="#fff" textLength="24.85" lengthAdjust="spacingAndGlyphs">Apr</text><text x="385.74" y="120.90" font-size="14.2" font-weight="bold" fill="#fff" textLength="16.49" lengthAdjust="spacingAndGlyphs">25</text><text x="351.36" y="142.30" font-size="14.5" fill="#e8eef6" textLength="6.69" lengthAdjust="spacingAndGlyphs">₿</text><text x="363.65" y="142.10" font-size="14.5" font-weight="bold" fill="#fff" textLength="44.35" lengthAdjust="spacingAndGlyphs">55,723</text><rect x="446.2" y="69.6" width="74.1" height="49.1" fill="#1f5490"/><text x="458.18" y="89.70" font-size="14.2" font-weight="bold" fill="#fff" textLength="30.33" lengthAdjust="spacingAndGlyphs">May</text><text x="491.95" y="89.70" font-size="14.2" font-weight="bold" fill="#fff" textLength="15.97" lengthAdjust="spacingAndGlyphs">22</text><text x="453.85" y="111.10" font-size="14.5" fill="#e8eef6" textLength="6.69" lengthAdjust="spacingAndGlyphs">₿</text><text x="466.13" y="110.90" font-size="14.5" font-weight="bold" fill="#fff" textLength="46.39" lengthAdjust="spacingAndGlyphs">59,563</text><rect x="529.1" y="74.3" width="72.3" height="48.8" fill="#1f5490"/><text x="543.63" y="94.40" font-size="14.2" font-weight="bold" fill="#fff" textLength="26.09" lengthAdjust="spacingAndGlyphs">Jun</text><text x="572.69" y="94.40" font-size="14.2" font-weight="bold" fill="#fff" textLength="14.05" lengthAdjust="spacingAndGlyphs">14</text><text x="536.86" y="115.80" font-size="14.5" fill="#e8eef6" textLength="6.69" lengthAdjust="spacingAndGlyphs">₿</text><text x="549.15" y="115.60" font-size="14.5" font-weight="bold" fill="#fff" textLength="44.42" lengthAdjust="spacingAndGlyphs">57,822</text><rect x="609.1" y="52.0" width="74.5" height="48.6" fill="#1f5490"/><text x="627.91" y="72.10" font-size="14.2" font-weight="bold" fill="#fff" textLength="24.49" lengthAdjust="spacingAndGlyphs">Oct</text><text x="656.49" y="72.10" font-size="14.2" font-weight="bold" fill="#fff" textLength="8.22" lengthAdjust="spacingAndGlyphs">6</text><text x="617.09" y="93.50" font-size="14.5" fill="#e8eef6" textLength="6.69" lengthAdjust="spacingAndGlyphs">₿</text><text x="629.30" y="93.30" font-size="14.5" font-weight="bold" fill="#fff" textLength="46.19" lengthAdjust="spacingAndGlyphs">63,083</text>
<rect x="11.4" y="521.9" width="816.8" height="0.95" fill="#4c5363"/>
</svg>
</body></html>
